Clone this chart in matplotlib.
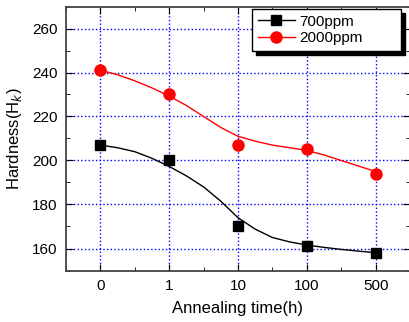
import matplotlib.pyplot as plt
from matplotlib.ticker import MultipleLocator

plt.rcParams['font.family'] = ['Liberation Sans', 'DejaVu Sans']

tick_labels = ['0', '1', '10', '100', '500']
pos = [0, 1, 2, 3, 4]

hard_700 = [207, 200, 170, 161, 158]
hard_2000 = [241, 230, 207, 205, 194]

# smooth fit curves, every quarter step
curve_x = [0, 0.25, 0.5, 0.75, 1, 1.25, 1.5, 1.75, 2, 2.25, 2.5, 2.75, 3, 3.25, 3.5, 3.75, 4]
curve_700 = [207, 205.8, 204, 201, 197.3, 193, 188, 181.5, 174, 168.8, 165, 163, 161.6, 160.5, 159.6, 158.8, 158.1]
curve_2000 = [241, 239, 236.2, 233, 229.3, 225, 220, 215, 211, 208.8, 207, 205.8, 204.6, 202.5, 200, 197.5, 195]

fig = plt.figure(figsize=(4.1, 3.22), dpi=100)
ax = fig.add_axes([66/410, 1-270.5/322, 1-66/410, (270.5-6.5)/322])

ax.plot(curve_x, curve_700, color='black', lw=1)
ax.plot(curve_x, curve_2000, color='red', lw=1)
ax.plot(pos, hard_700, 's', color='black', ms=6.5)
ax.plot(pos, hard_2000, 'o', color='red', ms=8)

# legend handles: line + marker
h1, = ax.plot([], [], '-s', color='black', lw=1, ms=6.5, label='700ppm')
h2, = ax.plot([], [], '-o', color='red', lw=1, ms=8, label='2000ppm')
ax.legend(handles=[h1, h2], loc='upper left',
          bbox_to_anchor=(252/410, 1-9/322, 149/410, 0.001), mode='expand',
          bbox_transform=fig.transFigure, borderaxespad=0, fancybox=False,
          edgecolor='black', framealpha=1, fontsize=11, handlelength=2.4,
          handletextpad=0.3, labelspacing=0.15, borderpad=0.4,
          shadow={'color': 'black', 'alpha': 1, 'ox': 3, 'oy': -3})

ax.set_xlim(-0.5, 4.5)
ax.set_ylim(150, 270)
ax.set_xticks(pos)
ax.set_xticklabels(tick_labels)
ax.xaxis.set_minor_locator(MultipleLocator(0.5))
ax.set_yticks([160, 180, 200, 220, 240, 260])
ax.yaxis.set_minor_locator(MultipleLocator(10))
ax.tick_params(which='both', direction='in', top=True, right=True, labelsize=11, pad=6)
ax.tick_params(which='major', length=5)
ax.tick_params(which='minor', length=3)
ax.grid(True, which='major', color='blue', linestyle=':', linewidth=1)

for s in ax.spines.values():
    s.set_linewidth(1.3)
    s.set_color('#444444')

ax.set_xlabel('Annealing time(h)', fontsize=12, labelpad=6)
ax.set_ylabel('Hardness(H$_k$)', fontsize=12, labelpad=6)

fig.savefig('out.png', dpi=100)
